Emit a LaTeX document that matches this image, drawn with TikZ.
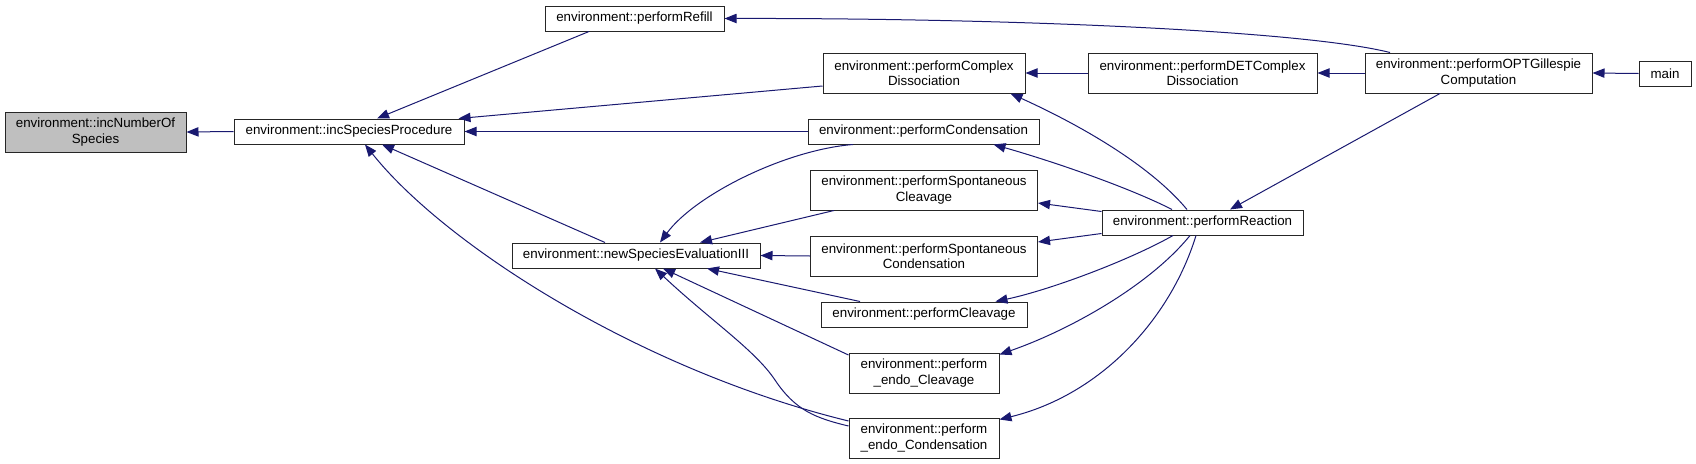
\documentclass[tikz,border=0pt]{standalone}
\usepackage{fontspec}
\setmainfont{Liberation Sans}
\usetikzlibrary{arrows.meta,calc}
\definecolor{edgecol}{RGB}{25,25,112}
\definecolor{hlfill}{RGB}{191,191,191}
\begin{document}
\begin{tikzpicture}[x=0.75pt,y=-0.75pt,
  box/.style={draw=black!85, line width=0.75pt, fill=white, inner sep=0pt, align=center,
    font=\fontsize{10}{11.5}\selectfont},
  one/.style={minimum height=18.75pt},
  two/.style={minimum height=30pt},
  arr/.style={draw=edgecol, line width=0.75pt, {Triangle[length=9pt,width=7pt]}-}]
\useasboundingbox (0,0) rectangle (1696,464);
% nodes
\node[box, two, fill=hlfill, minimum width=135.75pt] (nof) at (95.5,132) {environment::incNumberOf\\Species};
\node[box, one, minimum width=172.5pt] (sp) at (349,131.5) {environment::incSpeciesProcedure};
\node[box, one, minimum width=134.25pt] (refill) at (634.5,18.5) {environment::performRefill};
\node[box, one, minimum width=186pt] (newse) at (636,255.5) {environment::newSpeciesEvaluationIII};
\node[box, two, minimum width=151.5pt] (cdiss) at (924,73) {environment::performComplex\\Dissociation};
\node[box, one, minimum width=173.25pt] (cond) at (923.5,131.5) {environment::performCondensation};
\node[box, two, minimum width=170.25pt] (scl) at (924,190) {environment::performSpontaneous\\Cleavage};
\node[box, two, minimum width=170.25pt] (scond) at (924,256) {environment::performSpontaneous\\Condensation};
\node[box, one, minimum width=154.5pt] (clv) at (924,314.5) {environment::performCleavage};
\node[box, two, minimum width=112.5pt] (endoclv) at (924,373) {environment::perform\\\_endo\_Cleavage};
\node[box, two, minimum width=112.5pt] (endocond) at (924,438) {environment::perform\\\_endo\_Condensation};
\node[box, two, minimum width=171.75pt] (det) at (1202.5,73) {environment::performDETComplex\\Dissociation};
\node[box, one, minimum width=150.75pt] (react) at (1202.5,222.5) {environment::performReaction};
\node[box, two, minimum width=170.25pt] (opt) at (1478.5,73) {environment::performOPTGillespie\\Computation};
\node[box, one, minimum width=39pt] (main) at (1665,73.5) {main};
% edges
\draw[arr] (nof.east) -- (sp.west);
\draw[arr] ($(sp.north)+(28,0)$) -- ($(refill.south)+(-45.5,0)$);
\draw[arr] ($(sp.north east)+(-6,0)$) -- ($(cdiss.west)+(0,13)$);
\draw[arr] (sp.east) -- (cond.west);
\draw[arr] ($(sp.south)+(33,0)$) -- ($(newse.north)+(-31,0)$);
\draw[arr] ($(sp.south)+(16,0)$) .. controls (445,245) and (640,370) .. ($(endocond.west)+(0,-17)$);
\draw[arr] ($(newse.north)+(24,0)$) .. controls (695,195) and (785,150) .. ($(cond.south)+(-70.5,0)$);
\draw[arr] ($(newse.north)+(64,0)$) -- ($(scl.south)+(-90,0)$);
\draw[arr] (newse.east) -- (scond.west);
\draw[arr] ($(newse.south)+(71,0)$) -- ($(clv.north)+(-64,0)$);
\draw[arr] ($(newse.south)+(27,0)$) -- ($(endoclv.west)+(0,-18)$);
\draw[arr] ($(newse.south)+(19,0)$) .. controls (710,320) and (755,350) .. (775,380)
  .. controls (795,410) and (815,418) .. ($(endocond.west)+(0,-12)$);
\draw[arr] (cdiss.east) -- (det.west);
\draw[arr] ($(cdiss.south east)+(-15,0)$) .. controls (1080,125) and (1150,165) .. ($(react.north)+(-15.5,0)$);
\draw[arr] ($(cond.south east)+(-46,0)$) .. controls (1055,162) and (1130,188) .. ($(react.north)+(-30.5,0)$);
\draw[arr] ($(scl.east)+(0,13)$) -- ($(react.west)+(0,-11)$);
\draw[arr] ($(scond.east)+(0,-14)$) -- ($(react.west)+(0,11)$);
\draw[arr] ($(clv.north east)+(-32,0)$) .. controls (1050,290) and (1130,260) .. ($(react.south)+(-29.5,0)$);
\draw[arr] ($(endoclv.north east)+(0,2)$) .. controls (1070,330) and (1150,285) .. ($(react.south)+(-12.5,0)$);
\draw[arr] ($(endocond.north east)+(0,2)$) .. controls (1100,395) and (1170,320) .. ($(react.south)+(-6.5,0)$);
\draw[arr] (det.east) -- (opt.west);
\draw[arr] (refill.east) .. controls (1000,18) and (1300,30) .. ($(opt.north)+(-88.5,0)$);
\draw[arr] ($(react.north)+(27.5,0)$) -- ($(opt.south)+(-38.5,0)$);
\draw[arr] (opt.east) -- (main.west);
\end{tikzpicture}
\end{document}
